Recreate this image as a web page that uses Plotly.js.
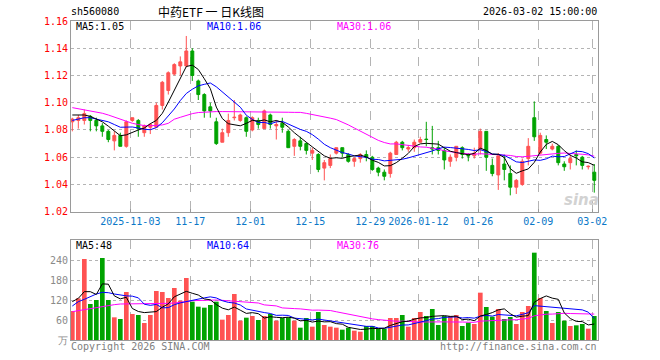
<!DOCTYPE html>
<html><head><meta charset="utf-8">
<script src="https://cdn.plot.ly/plotly-3.0.1.min.js"></script>
<style>html,body{margin:0;padding:0;background:#fff}#chart{width:660px;height:360px}</style>
</head><body><div id="chart"></div>
<script>
const dates = [
'2025-10-20','2025-10-21','2025-10-22','2025-10-23','2025-10-24','2025-10-27','2025-10-28','2025-10-29','2025-10-30','2025-10-31',
'2025-11-03','2025-11-04','2025-11-05','2025-11-06','2025-11-07','2025-11-10','2025-11-11','2025-11-12','2025-11-13','2025-11-14',
'2025-11-17','2025-11-18','2025-11-19','2025-11-20','2025-11-21','2025-11-24','2025-11-25','2025-11-26','2025-11-27','2025-11-28',
'2025-12-01','2025-12-02','2025-12-03','2025-12-04','2025-12-05','2025-12-08','2025-12-09','2025-12-10','2025-12-11','2025-12-12',
'2025-12-15','2025-12-16','2025-12-17','2025-12-18','2025-12-19','2025-12-22','2025-12-23','2025-12-24','2025-12-25','2025-12-26',
'2025-12-29','2025-12-30','2025-12-31','2026-01-05','2026-01-06','2026-01-07','2026-01-08','2026-01-09','2026-01-12','2026-01-13',
'2026-01-14','2026-01-15','2026-01-16','2026-01-19','2026-01-20','2026-01-21','2026-01-22','2026-01-23','2026-01-26','2026-01-27',
'2026-01-28','2026-01-29','2026-01-30','2026-02-02','2026-02-03','2026-02-04','2026-02-05','2026-02-06','2026-02-09','2026-02-10',
'2026-02-11','2026-02-12','2026-02-13','2026-02-24','2026-02-25','2026-02-26','2026-02-27','2026-03-02'];

const openP = [
1.086,1.087,1.087,1.090,1.087,1.083,1.079,1.072,1.076,1.068,
1.087,1.087,1.078,1.082,1.082,1.098,1.109,1.121,1.127,1.127,
1.138,1.116,1.106,1.097,1.086,1.071,1.078,1.089,1.087,1.089,
1.080,1.087,1.081,1.091,1.083,1.085,1.079,1.068,1.072,1.070,
1.063,1.062,1.052,1.054,1.063,1.067,1.062,1.057,1.059,1.062,
1.060,1.052,1.049,1.048,1.062,1.071,1.066,1.067,1.071,1.0733,
1.067,1.067,1.065,1.057,1.060,1.067,1.0613,1.061,1.066,1.079,
1.054,1.047,1.055,1.048,1.038,1.040,1.059,1.089,1.063,1.073,
1.066,1.068,1.055,1.056,1.062,1.060,1.053,1.049];
const highP = [
1.089,1.091,1.095,1.091,1.089,1.085,1.080,1.079,1.078,1.087,
1.089,1.088,1.084,1.085,1.100,1.116,1.123,1.129,1.134,1.149,
1.140,1.117,1.107,1.100,1.089,1.081,1.092,1.102,1.092,1.090,
1.090,1.089,1.095,1.092,1.087,1.089,1.080,1.074,1.075,1.071,
1.067,1.063,1.058,1.062,1.067,1.067,1.063,1.060,1.063,1.065,
1.061,1.053,1.051,1.064,1.072,1.072,1.069,1.073,1.075,1.086,
1.083,1.072,1.067,1.062,1.068,1.068,1.063,1.067,1.081,1.079,
1.059,1.063,1.062,1.054,1.044,1.059,1.074,1.101,1.078,1.076,
1.070,1.069,1.057,1.062,1.065,1.061,1.054,1.055];
const lowP = [
1.079,1.081,1.084,1.079,1.079,1.075,1.071,1.065,1.068,1.067,
1.086,1.075,1.075,1.077,1.082,1.095,1.106,1.120,1.120,1.126,
1.116,1.102,1.089,1.089,1.069,1.071,1.075,1.087,1.086,1.075,
1.079,1.081,1.081,1.081,1.073,1.078,1.067,1.061,1.065,1.062,
1.058,1.049,1.043,1.052,1.062,1.060,1.056,1.053,1.056,1.057,
1.050,1.046,1.043,1.045,1.062,1.065,1.064,1.064,1.071,1.068,
1.062,1.062,1.051,1.053,1.057,1.059,1.057,1.059,1.062,1.050,
1.046,1.036,1.043,1.032,1.033,1.039,1.054,1.072,1.062,1.066,
1.065,1.054,1.050,1.051,1.054,1.051,1.051,1.034];
const closeP = [
1.088,1.089,1.092,1.087,1.083,1.079,1.073,1.076,1.068,1.086,
1.089,1.081,1.083,1.084,1.098,1.115,1.122,1.128,1.130,1.138,
1.120,1.106,1.094,1.094,1.070,1.078,1.087,1.0893,1.091,1.079,
1.089,1.084,1.094,1.084,1.084,1.082,1.067,1.073,1.068,1.065,
1.065,1.051,1.056,1.059,1.067,1.063,1.057,1.059,1.062,1.060,
1.051,1.049,1.046,1.063,1.071,1.067,1.067,1.071,1.073,1.073,
1.066,1.065,1.058,1.060,1.068,1.062,1.061,1.063,1.079,1.060,
1.048,1.061,1.051,1.038,1.043,1.057,1.068,1.075,1.076,1.071,
1.068,1.056,1.053,1.059,1.061,1.054,1.0533,1.043];
const volume = [
87,125,243,108,120,246,120,68,63,144,
78,75,51,75,147,144,126,156,118,186,
115,100,97,105,115,61,75,138,58,67,
72,60,72,78,58,66,68,58,37,66,
40,84,45,40,37,31,37,28,25,42,
42,34,34,66,66,75,40,66,84,72,
93,45,72,72,75,42,52,48,142,99,
70,93,63,69,48,84,102,262,126,87,
51,84,58,42,44,48,34,72];

// moving-average values at the left edge (earlier days are not shown)
const ma5Head = [1.091,1.091,1.091,1.090];
const ma10Head = [1.087,1.088,1.089,1.089,1.088,1.087,1.086,1.084,1.082];
const ma30Head = [1.0964,1.0956,1.0947,1.0941,1.0935,1.0923,1.0910,1.0895,1.0879,1.0864,
1.0849,1.0840,1.0832,1.0831,1.0832,1.0837,1.0849,1.0879,1.0893,1.0908,
1.0920,1.0928,1.0932,1.0935,1.0935,1.0935,1.0935,1.0935,1.0935];
const vma5Head = [115,125,145,145];
const vma10Head = [102,115,122,130,138,143,142,138,135];
const vma30Head = [85,88,92,95,98,101,105,106,108,108,108,108,108,108,108,109,110,111,112,115,118,119,120,120,120,119,118,117,116];

const tickDates = ['2025-11-03','2025-11-17','2025-12-01','2025-12-15','2025-12-29','2026-01-12','2026-01-26','2026-02-09','2026-03-02'];
const tickLabels = ['2025-11-03','11-17','12-01','12-15','12-29','2026-01-12','01-26','02-09','03-02'];
const priceTicks = [1.02,1.04,1.06,1.08,1.10,1.12,1.14,1.16];
const volTicks = [0,60,120,180,240];
const volTickLabels = ['万','60','120','180','240'];

const RED = '#ff5252', GREEN = '#00a300';
const idx = dates.map((d,i)=>i);

function movingAvg(arr, n, head){
  return arr.map((v,i)=>{
    if(i < n-1) return head[i];
    let s = 0; for(let k=i-n+1;k<=i;k++) s += arr[k];
    return s/n;
  });
}
const ma5 = movingAvg(closeP,5,ma5Head), ma10 = movingAvg(closeP,10,ma10Head), ma30 = movingAvg(closeP,30,ma30Head);
const vma5 = movingAvg(volume,5,vma5Head), vma10 = movingAvg(volume,10,vma10Head), vma30 = movingAvg(volume,30,vma30Head);
const volColors = closeP.map((c,i)=> c > openP[i] ? RED : GREEN);

const tickPos = tickDates.map(d => dates.indexOf(d) - 0.33);

const traces = [
  {type:'candlestick', x:idx, open:openP, high:highP, low:lowP, close:closeP, xaxis:'x', yaxis:'y',
   increasing:{line:{color:RED,width:1}, fillcolor:RED}, decreasing:{line:{color:GREEN,width:1}, fillcolor:GREEN},
   whiskerwidth:0, hoverinfo:'skip'},
  {type:'scatter', mode:'lines', x:idx, y:ma30, line:{color:'#ff00ff',width:1}, xaxis:'x', yaxis:'y', hoverinfo:'skip'},
  {type:'scatter', mode:'lines', x:idx, y:ma10, line:{color:'#0000ff',width:1}, xaxis:'x', yaxis:'y', hoverinfo:'skip'},
  {type:'scatter', mode:'lines', x:idx, y:ma5, line:{color:'#000000',width:1}, xaxis:'x', yaxis:'y', hoverinfo:'skip'},
  {type:'bar', x:idx, y:volume, marker:{color:volColors, line:{width:0}}, width:0.78, xaxis:'x2', yaxis:'y2', hoverinfo:'skip'},
  {type:'scatter', mode:'lines', x:idx, y:vma30, line:{color:'#ff00ff',width:1}, xaxis:'x2', yaxis:'y2', hoverinfo:'skip'},
  {type:'scatter', mode:'lines', x:idx, y:vma10, line:{color:'#0000ff',width:1}, xaxis:'x2', yaxis:'y2', hoverinfo:'skip'},
  {type:'scatter', mode:'lines', x:idx, y:vma5, line:{color:'#000000',width:1}, xaxis:'x2', yaxis:'y2', hoverinfo:'skip'}
];

const L=71, R=62, T=21, B=20, W=660, H=360;
const pw = W-L-R, ph = H-T-B;
const px = v => (v-L)/pw, py = v => (H-B-v)/ph;
const MONO = 'DejaVu Sans Mono, monospace';
function ann(text, x, y, xanchor, color, size, family){
  return {text:text, xref:'paper', yref:'paper', x:px(x), y:py(y), xanchor:xanchor, yanchor:'middle',
          showarrow:false, font:{family:family||MONO, size:size||10, color:color||'#000'}};
}

const gridX = {tickvals:tickPos, showgrid:true, gridcolor:'#b4b4b4', griddash:'dash', gridwidth:1,
  zeroline:false, showline:true, mirror:true, linecolor:'#9a9a9a', linewidth:1,
  range:[-0.22, 87.62], fixedrange:true};

const layout = {
  width:W, height:H, margin:{l:L, r:R, t:T, b:B, pad:0},
  paper_bgcolor:'#ffffff', plot_bgcolor:'#ffffff', showlegend:false, dragmode:false,
  xaxis: Object.assign({}, gridX, {domain:[0,1], anchor:'y', ticktext:tickLabels, ticks:'inside', ticklen:3, tickcolor:'#9a9a9a',
     tickfont:{family:MONO, size:10, color:'#0a78c8'}, rangeslider:{visible:false}}),
  yaxis: {domain:[(H-B-211.7)/ph, 1], anchor:'x', range:[1.02,1.16], tickvals:priceTicks, tickformat:'.2f',
     showgrid:true, gridcolor:'#b4b4b4', griddash:'dot', gridwidth:1, zeroline:false, showline:true, mirror:true,
     linecolor:'#9a9a9a', linewidth:1, ticks:'', tickfont:{family:MONO, size:10, color:'#ff0000'}, fixedrange:true},
  xaxis2: Object.assign({}, gridX, {domain:[0,1], anchor:'y2', showticklabels:false, ticks:''}),
  yaxis2: {domain:[0, (H-B-240)/ph], anchor:'x2', range:[0,300], tickvals:volTicks, ticktext:volTickLabels,
     showgrid:true, gridcolor:'#b4b4b4', griddash:'dot', gridwidth:1, zeroline:false, showline:true, mirror:true,
     linecolor:'#9a9a9a', linewidth:1, ticks:'', tickfont:{family:MONO, size:10, color:'#8a8a8a'}, fixedrange:true},
  annotations: [
    ann('sh560080', 69, 12, 'left'),
    ann('中药ETF 一 日K线图', 211, 11.5, 'center', '#000', 12, 'Noto Sans CJK SC, sans-serif'),
    ann('2026-03-02 15:00:00', 599, 12, 'right'),
    ann('MA5:1.05', 74, 26.5, 'left', '#000000'),
    ann('MA10:1.06', 205, 26.5, 'left', '#0000ff'),
    ann('MA30:1.06', 335, 26.5, 'left', '#ff00ff'),
    ann('MA5:48', 74, 245, 'left', '#000000'),
    ann('MA10:64', 205, 245, 'left', '#0000ff'),
    ann('MA30:76', 335, 245, 'left', '#ff00ff'),
    ann('Copyright 2026 SINA.COM', 69, 346, 'left', '#808080'),
    ann('http://finance.sina.com.cn', 599, 346, 'right', '#808080'),
    ann('<b><i>sina</i></b>', 581, 200, 'center', '#d2d2d2', 15, 'DejaVu Sans, sans-serif')
  ]
};

Plotly.newPlot('chart', traces, layout, {staticPlot:true, displayModeBar:false});
</script>
</body></html>
